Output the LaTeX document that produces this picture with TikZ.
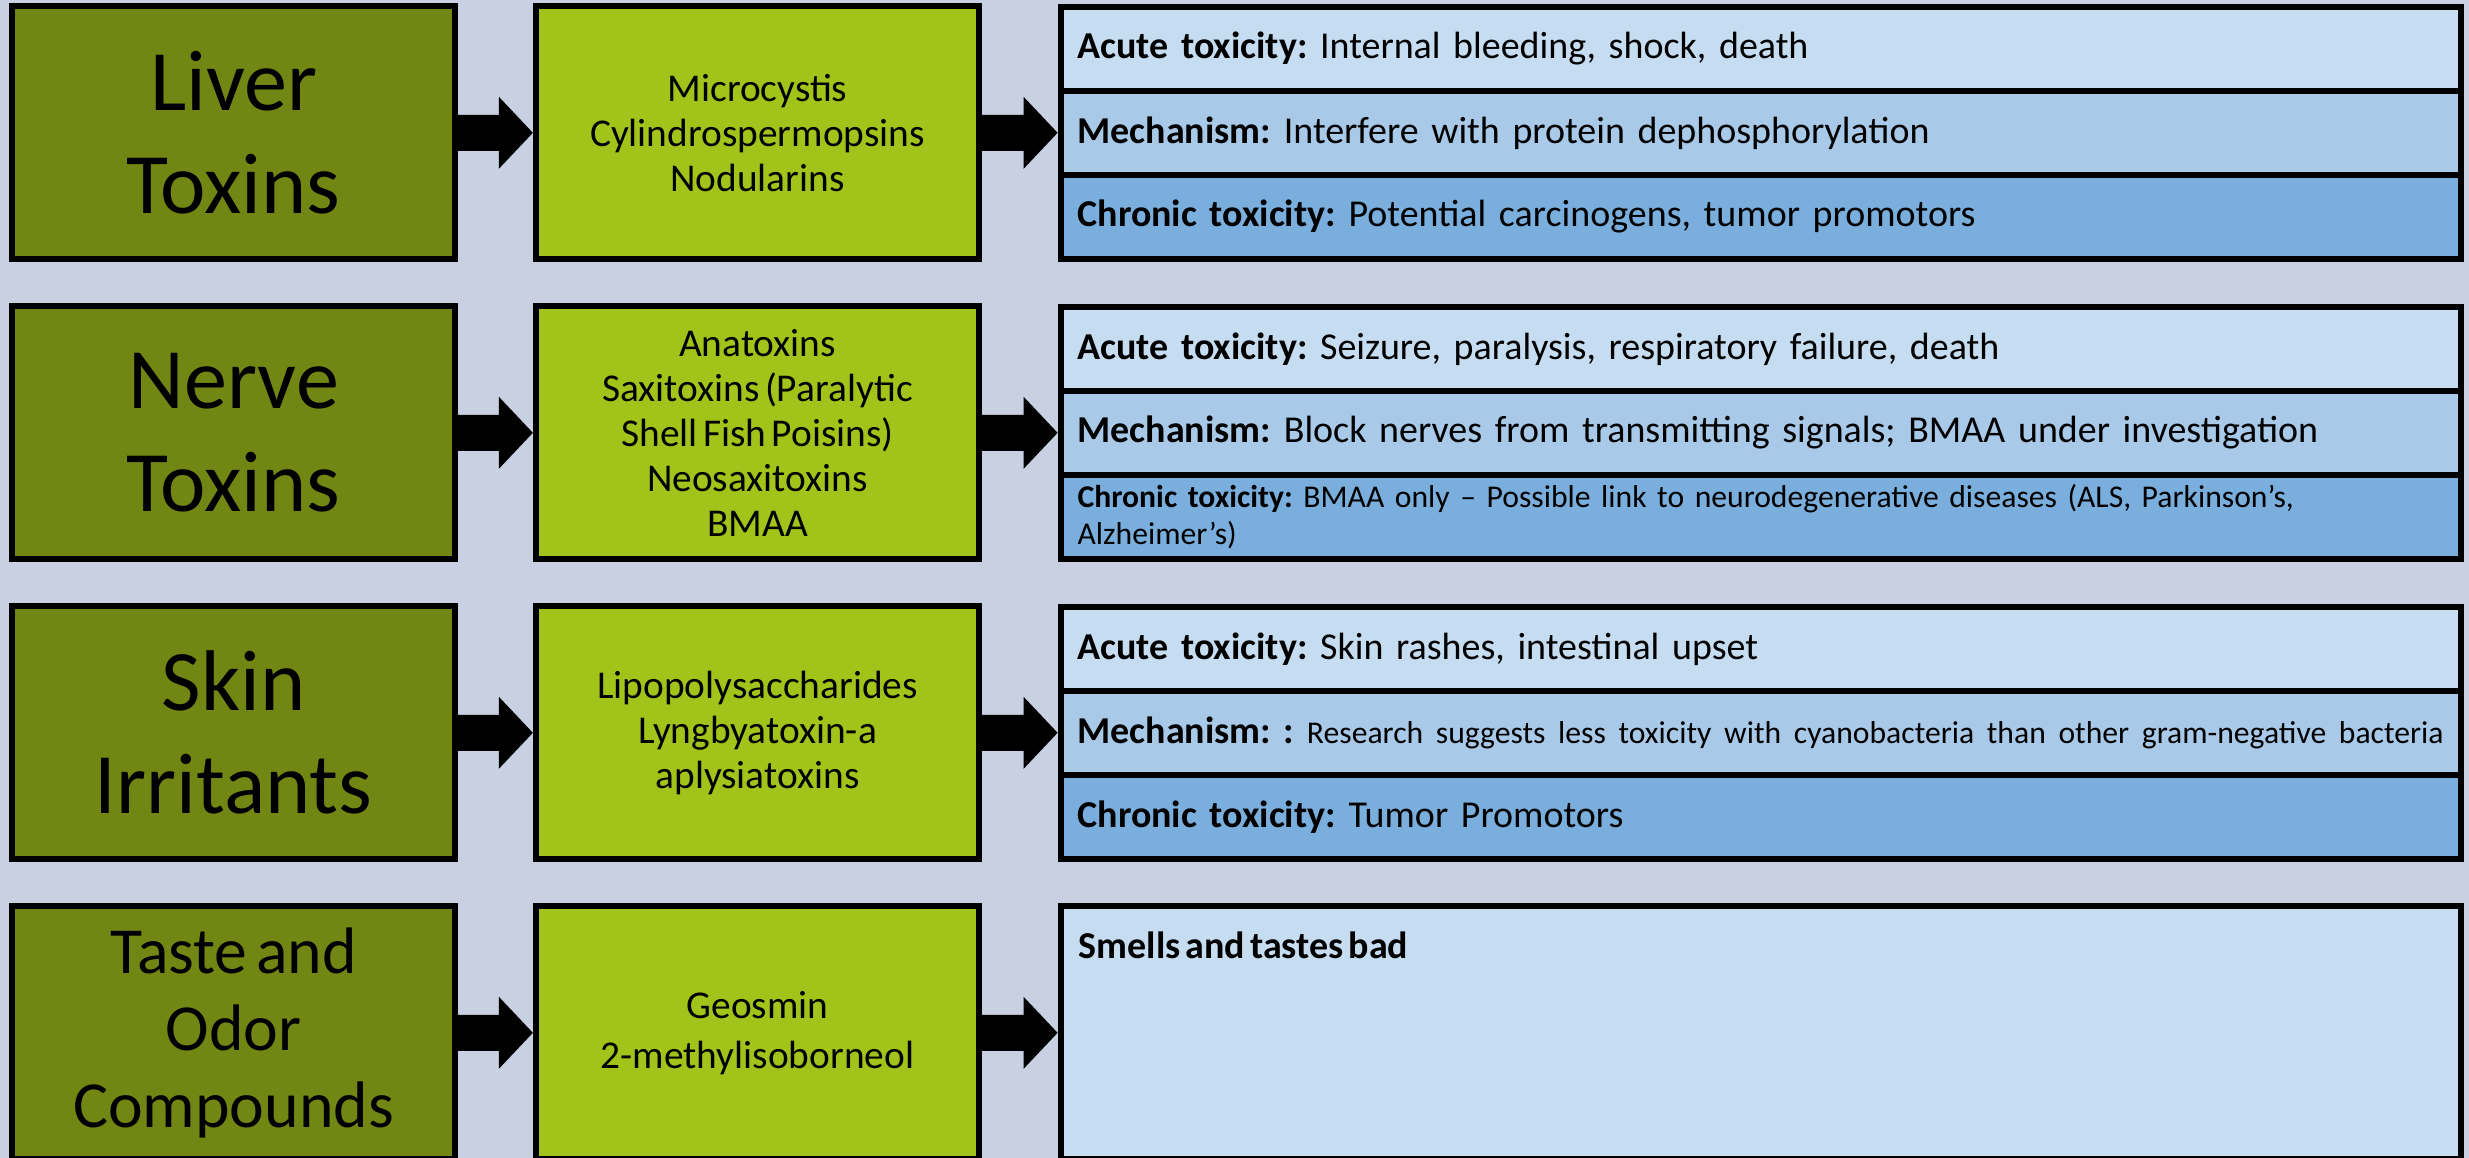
\documentclass[tikz,border=0pt]{standalone}
\usepackage{fontspec}
\setmainfont{Carlito}[WordSpace=0.6]
\usetikzlibrary{calc}
\frenchspacing
\hyphenpenalty=10000
\definecolor{bgc}{HTML}{C9D0E1}
\definecolor{olivec}{HTML}{728713}
\definecolor{limec}{HTML}{A2C41A}
\definecolor{bandA}{HTML}{C5DCF1}
\definecolor{bandB}{HTML}{A9C9E8}
\definecolor{bandC}{HTML}{7AAEDC}
\newcommand\blockarr[2]{\fill[black] ($(#1.east)+(0,-18)$) -- ($(#2.west)+(-34,-18)$) -- ($(#2.west)+(-34,-36)$) -- (#2.west) -- ($(#2.west)+(-34,36)$) -- ($(#2.west)+(-34,18)$) -- ($(#1.east)+(0,18)$) -- cycle;}
\tikzset{
  catbox/.style={draw=black, line width=0.06cm, fill=olivec, minimum width=4.43cm, minimum height=2.53cm, inner sep=0pt, align=center, font=\fontsize{24.5}{29.3}\selectfont},
  toxbox/.style={draw=black, line width=0.06cm, fill=limec, minimum width=4.43cm, minimum height=2.53cm, inner sep=0pt, align=center, font=\fontsize{11.2}{12.8}\selectfont},
  band/.style={draw=black, line width=0.06cm, fill=#1, minimum width=14cm, minimum height=0.84cm, inner ysep=0pt, inner xsep=0.17cm, text width=13.66cm, align=left, font=\fontsize{10.8}{13.2}\selectfont},
  smalltxt/.style={font=\fontsize{9}{10.6}\selectfont}
}
\begin{document}
\begin{tikzpicture}[x=0.01cm,y=-0.01cm]
\fill[bgc] (0,0) rectangle (2469,1158);
\useasboundingbox (0,0) rectangle (2469,1158);

% Row 1
\node[catbox] (c1) at (233.6,132.8) {Liver\\Toxins};
\node[toxbox] (t1) at (757.5,132.8) {Microcystis\\Cylindrospermopsins\\Nodularins};
\node[band=bandA] (r1a) at (1761,48.8) {\textbf{Acute toxicity:} Internal bleeding, shock, death};
\node[band=bandB] (r1m) at (1761,132.8) {\textbf{Mechanism:} Interfere with protein dephosphorylation};
\node[band=bandC] (r1c) at (1761,216.8) {\textbf{Chronic toxicity:} Potential carcinogens, tumor promotors};

% Row 2
\node[catbox] (c2) at (233.6,432.8) {Nerve\\Toxins};
\node[toxbox] (t2) at (757.5,432.8) {Anatoxins\\Saxitoxins (Paralytic\\Shell Fish Poisins)\\Neosaxitoxins\\BMAA};
\node[band=bandA] (r2a) at (1761,348.8) {\textbf{Acute toxicity:} Seizure, paralysis, respiratory failure, death};
\node[band=bandB] (r2m) at (1761,432.8) {\textbf{Mechanism:} Block nerves from transmitting signals; BMAA under investigation};
\node[band=bandC, smalltxt] (r2c) at (1761,516.8) {\textbf{Chronic toxicity:} BMAA only – Possible link to neurodegenerative diseases (ALS, Parkinson’s,\\Alzheimer’s)};

% Row 3
\node[catbox] (c3) at (233.6,732.8) {Skin\\Irritants};
\node[toxbox] (t3) at (757.5,732.8) {Lipopolysaccharides\\Lyngbyatoxin-a\\aplysiatoxins};
\node[band=bandA] (r3a) at (1761,648.8) {\textbf{Acute toxicity:} Skin rashes, intestinal upset};
\node[band=bandB] (r3m) at (1761,732.8) {\mbox{\textbf{Mechanism: :} {\fontsize{9}{10.6}\selectfont Research suggests less toxicity with cyanobacteria than other gram-negative bacteria}}};
\node[band=bandC] (r3c) at (1761,816.8) {\textbf{Chronic toxicity:} Tumor Promotors};

% Row 4
\node[catbox, font=\fontsize{18.7}{21.9}\selectfont] (c4) at (233.6,1032.8) {Taste and\\Odor\\Compounds};
\node[toxbox, font=\fontsize{11.2}{14.2}\selectfont] (t4) at (757.5,1032.8) {Geosmin\\2-methylisoborneol};
\node[draw=black, line width=0.06cm, fill=bandA, minimum width=14cm, minimum height=2.53cm, inner sep=0pt] (r4m) at (1761,1032.8) {};
\node[anchor=base west, inner sep=0pt, font=\fontsize{10.8}{13.2}\selectfont\bfseries] (r4t) at (1078,958) {Smells and tastes bad};

% Arrows
\blockarr{c1}{t1}
\blockarr{t1}{r1m}
\blockarr{c2}{t2}
\blockarr{t2}{r2m}
\blockarr{c3}{t3}
\blockarr{t3}{r3m}
\blockarr{c4}{t4}
\blockarr{t4}{r4m}
\end{tikzpicture}
\end{document}
